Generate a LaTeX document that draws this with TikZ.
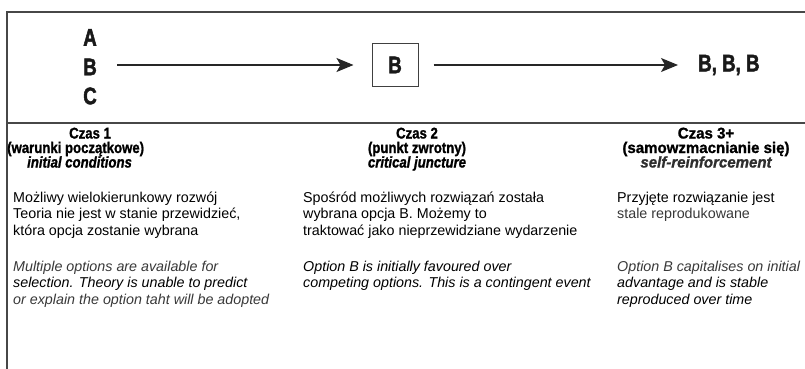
\documentclass[tikz,border=0pt]{standalone}
\usepackage{fontspec}
\setmainfont{Liberation Sans}
\newfontfamily\headfont{Liberation Sans}[FakeStretch=0.85,FakeBold=1.2]
\newfontfamily\headwidefont{Liberation Sans}[FakeStretch=0.97,FakeBold=1.2]
\newfontfamily\bigfont{Liberation Sans}[FakeStretch=0.78,FakeBold=2]
\usetikzlibrary{arrows.meta}
\begin{document}
\begin{tikzpicture}[x=1pt,y=-1pt,
  frame/.style={draw=black!72, line width=1.4pt},
  conn/.style={draw=black!85, line width=1.2pt, -{Stealth[length=17pt,width=14pt,inset=4pt]}},
  big/.style={font=\bigfont\bfseries\fontsize{24}{24}\selectfont, inner sep=0pt, text=black!90},
  head/.style={font=\headfont\bfseries\fontsize{15.5}{16}\selectfont, inner sep=0pt, anchor=base},
  headit/.style={font=\headfont\bfseries\itshape\fontsize{15.5}{16}\selectfont, inner sep=0pt, anchor=base},
  headw/.style={font=\headwidefont\bfseries\fontsize{15.5}{16}\selectfont, inner sep=0pt, anchor=base},
  headwit/.style={font=\headwidefont\bfseries\itshape\fontsize{15.5}{16}\selectfont, inner sep=0pt, anchor=base},
  body/.style={font=\fontsize{14.3}{16.5}\selectfont, inner sep=0pt, anchor=base west},
  bodyit/.style={font=\itshape\fontsize{14.3}{16.5}\selectfont, inner sep=0pt, anchor=base west},
  faded/.style={text=black!78},
]
\useasboundingbox (0,0) rectangle (805,369);
% frame
\draw[frame] (805,12) -- (7,12) -- (7,369);
\draw[frame] (7,123) -- (805,123);
% top row
\node[big] (a) at (90,37.5) {A};
\node[big] (b) at (90,67) {B};
\node[big] (c) at (90,96) {C};
\coordinate (s1) at (117,65);
\node[big, draw=black!75, line width=1pt, minimum width=46pt, minimum height=43pt] (bx) at (395,65) {B};
\node[big, anchor=west] (bbb) at (698,65) {B, B, B};
\draw[conn, shorten >=18pt] (s1) -- (bx.west);
\draw[conn, shorten <=15pt, shorten >=20pt] (bx.east) -- (bbb.west);
% headings
\node[head, anchor=base west] (t1) at (69,138.5) {Czas 1};
\node[head, anchor=base west] (w1) at (7,153) {(warunki początkowe)};
\node[headit, anchor=base west] (i1) at (27,167.5) {initial conditions};
\node[head] (t2) at (417,138.5) {Czas 2};
\node[head] (w2) at (417,153) {(punkt zwrotny)};
\node[headit] (i2) at (417,167.5) {critical juncture};
\node[headw] (t3) at (706,138.5) {Czas 3+};
\node[headw] (w3) at (706,153) {(samowzmacnianie się)};
\node[headwit, text=black!82] (i3) at (706,167.5) {self-reinforcement};
% column 1
\node[body] (pa0) at (13,202) {Możliwy wielokierunkowy rozwój};
\node[body] (pa1) at (13,218.5) {Teoria nie jest w stanie przewidzieć,};
\node[body] (pa2) at (13,235) {która opcja zostanie wybrana};
\node[bodyit, faded] (ea0) at (13,271) {Multiple options are available for};
\node[bodyit] (ea1) at (13,287.5) {selection. Theory is unable to predict};
\node[bodyit, faded] (ea2) at (13,304) {or explain the option taht will be adopted};
% column 2
\node[body] (pb0) at (303,202) {Spośród możliwych rozwiązań została};
\node[body] (pb1) at (303,218.5) {wybrana opcja B. Możemy to};
\node[body] (pb2) at (303,235) {traktować jako nieprzewidziane wydarzenie};
\node[bodyit] (eb0) at (303,271) {Option B is initially favoured over};
\node[bodyit] (eb1) at (303,287.5) {competing options. This is a contingent event};
% column 3
\node[body] (pc0) at (617,202) {Przyjęte rozwiązanie jest};
\node[body, faded] (pc1) at (617,218.5) {stale reprodukowane};
\node[bodyit, faded] (ec0) at (617,271) {Option B capitalises on initial};
\node[bodyit] (ec1) at (617,287.5) {advantage and is stable};
\node[bodyit] (ec2) at (617,304) {reproduced over time};
\end{tikzpicture}
\end{document}
